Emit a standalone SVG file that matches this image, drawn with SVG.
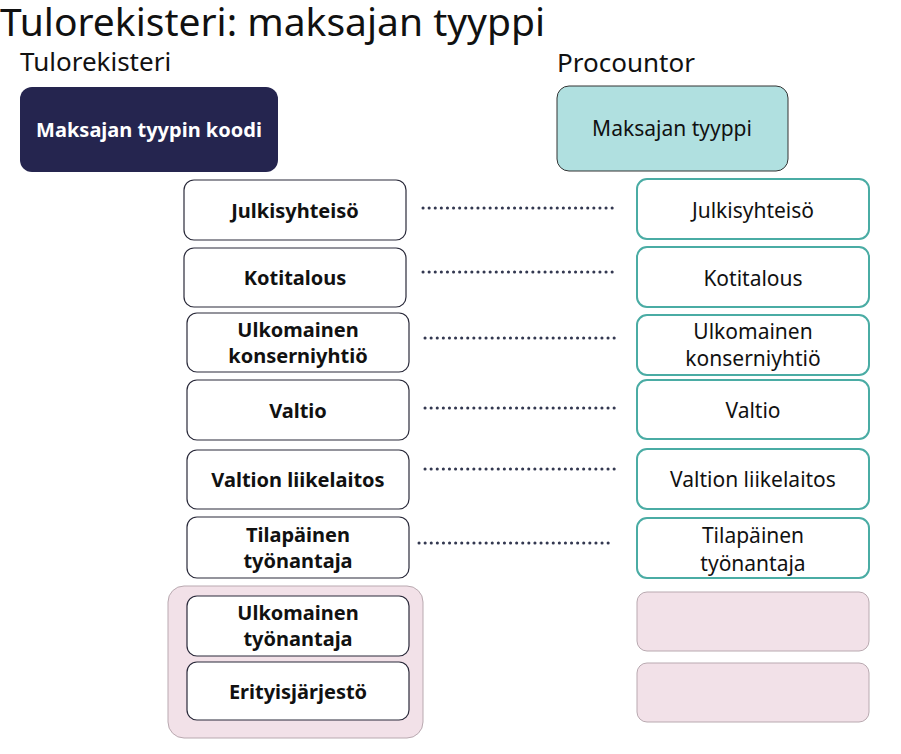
<svg xmlns="http://www.w3.org/2000/svg" width="901" height="754" viewBox="0 0 901 754">
<style>
text{font-family:"Noto Sans","Liberation Sans",sans-serif;text-anchor:middle}
.l{fill:#fff;stroke:#2a2a3a;stroke-width:1.2}
.r{fill:#fff;stroke:#4aaca4;stroke-width:2}
.p{fill:#f2e1e8;stroke:#b9a9b0;stroke-width:1}
.lt{font-size:20px;font-weight:bold;fill:#111}
.rt{font-size:21px;fill:#111}
.d{stroke:#333850;stroke-width:3;stroke-dasharray:0.1 6;stroke-linecap:round}
</style>
<rect width="901" height="754" fill="#fff"/>
<text x="0" y="36" style="text-anchor:start;font-size:39px" fill="#111">Tulorekisteri: maksajan tyyppi</text>
<text x="20" y="71" style="text-anchor:start;font-size:26px" fill="#111">Tulorekisteri</text>
<text x="557" y="72" style="text-anchor:start;font-size:26px" fill="#111">Procountor</text>
<g id="hdr-left"><rect x="20" y="87" width="258" height="85" rx="12" fill="#25254f"/><text x="149" y="137" class="lt" style="fill:#fff">Maksajan tyypin koodi</text></g>
<g id="hdr-right"><rect x="557" y="86" width="231" height="85" rx="12" fill="#b0e0e0" stroke="#333" stroke-width="1"/><text x="672" y="136" class="rt">Maksajan tyyppi</text></g>
<g id="group-pink"><rect x="168" y="586" width="255" height="152" rx="16" class="p"/></g>
<g id="l1"><rect x="184" y="180" width="222" height="60" rx="10" class="l"/><text x="295" y="218" class="lt">Julkisyhteisö</text></g>
<g id="l2"><rect x="184" y="248" width="222" height="59" rx="10" class="l"/><text x="295" y="285" class="lt">Kotitalous</text></g>
<g id="l3"><rect x="187" y="313" width="222" height="59" rx="10" class="l"/><text x="298" y="337" class="lt">Ulkomainen</text><text x="298" y="363" class="lt">konserniyhtiö</text></g>
<g id="l4"><rect x="187" y="380" width="222" height="60" rx="10" class="l"/><text x="298" y="418" class="lt">Valtio</text></g>
<g id="l5"><rect x="187" y="450" width="222" height="59" rx="10" class="l"/><text x="298" y="487" class="lt">Valtion liikelaitos</text></g>
<g id="l6"><rect x="187" y="517" width="222" height="61" rx="10" class="l"/><text x="298" y="542" class="lt">Tilapäinen</text><text x="298" y="568" class="lt">työnantaja</text></g>
<g id="l7"><rect x="187" y="596" width="222" height="60" rx="10" class="l"/><text x="298" y="620" class="lt">Ulkomainen</text><text x="298" y="646" class="lt">työnantaja</text></g>
<g id="l8"><rect x="187" y="662" width="222" height="58" rx="10" class="l"/><text x="298" y="699" class="lt">Erityisjärjestö</text></g>
<g id="r1"><rect x="637" y="179" width="232" height="60" rx="10" class="r"/><text x="753" y="218" class="rt">Julkisyhteisö</text></g>
<g id="r2"><rect x="637" y="247" width="232" height="60" rx="10" class="r"/><text x="753" y="286" class="rt">Kotitalous</text></g>
<g id="r3"><rect x="637" y="315" width="232" height="60" rx="10" class="r"/><text x="753" y="339" class="rt">Ulkomainen</text><text x="753" y="366" class="rt">konserniyhtiö</text></g>
<g id="r4"><rect x="637" y="380" width="232" height="59" rx="10" class="r"/><text x="753" y="418" class="rt">Valtio</text></g>
<g id="r5"><rect x="637" y="449" width="232" height="60" rx="10" class="r"/><text x="753" y="487" class="rt">Valtion liikelaitos</text></g>
<g id="r6"><rect x="637" y="518" width="232" height="60" rx="10" class="r"/><text x="753" y="543" class="rt">Tilapäinen</text><text x="753" y="571" class="rt">työnantaja</text></g>
<g id="r7"><rect x="637" y="592" width="232" height="59" rx="10" class="p"/></g>
<g id="r8"><rect x="637" y="663" width="232" height="59" rx="10" class="p"/></g>
<g id="connectors">
<line x1="423" y1="208" x2="618" y2="208" class="d"/>
<line x1="423" y1="272" x2="618" y2="272" class="d"/>
<line x1="425" y1="338" x2="618" y2="338" class="d"/>
<line x1="425" y1="408" x2="618" y2="408" class="d"/>
<line x1="425" y1="469" x2="618" y2="469" class="d"/>
<line x1="419" y1="543" x2="614" y2="543" class="d"/>
</g>
</svg>
